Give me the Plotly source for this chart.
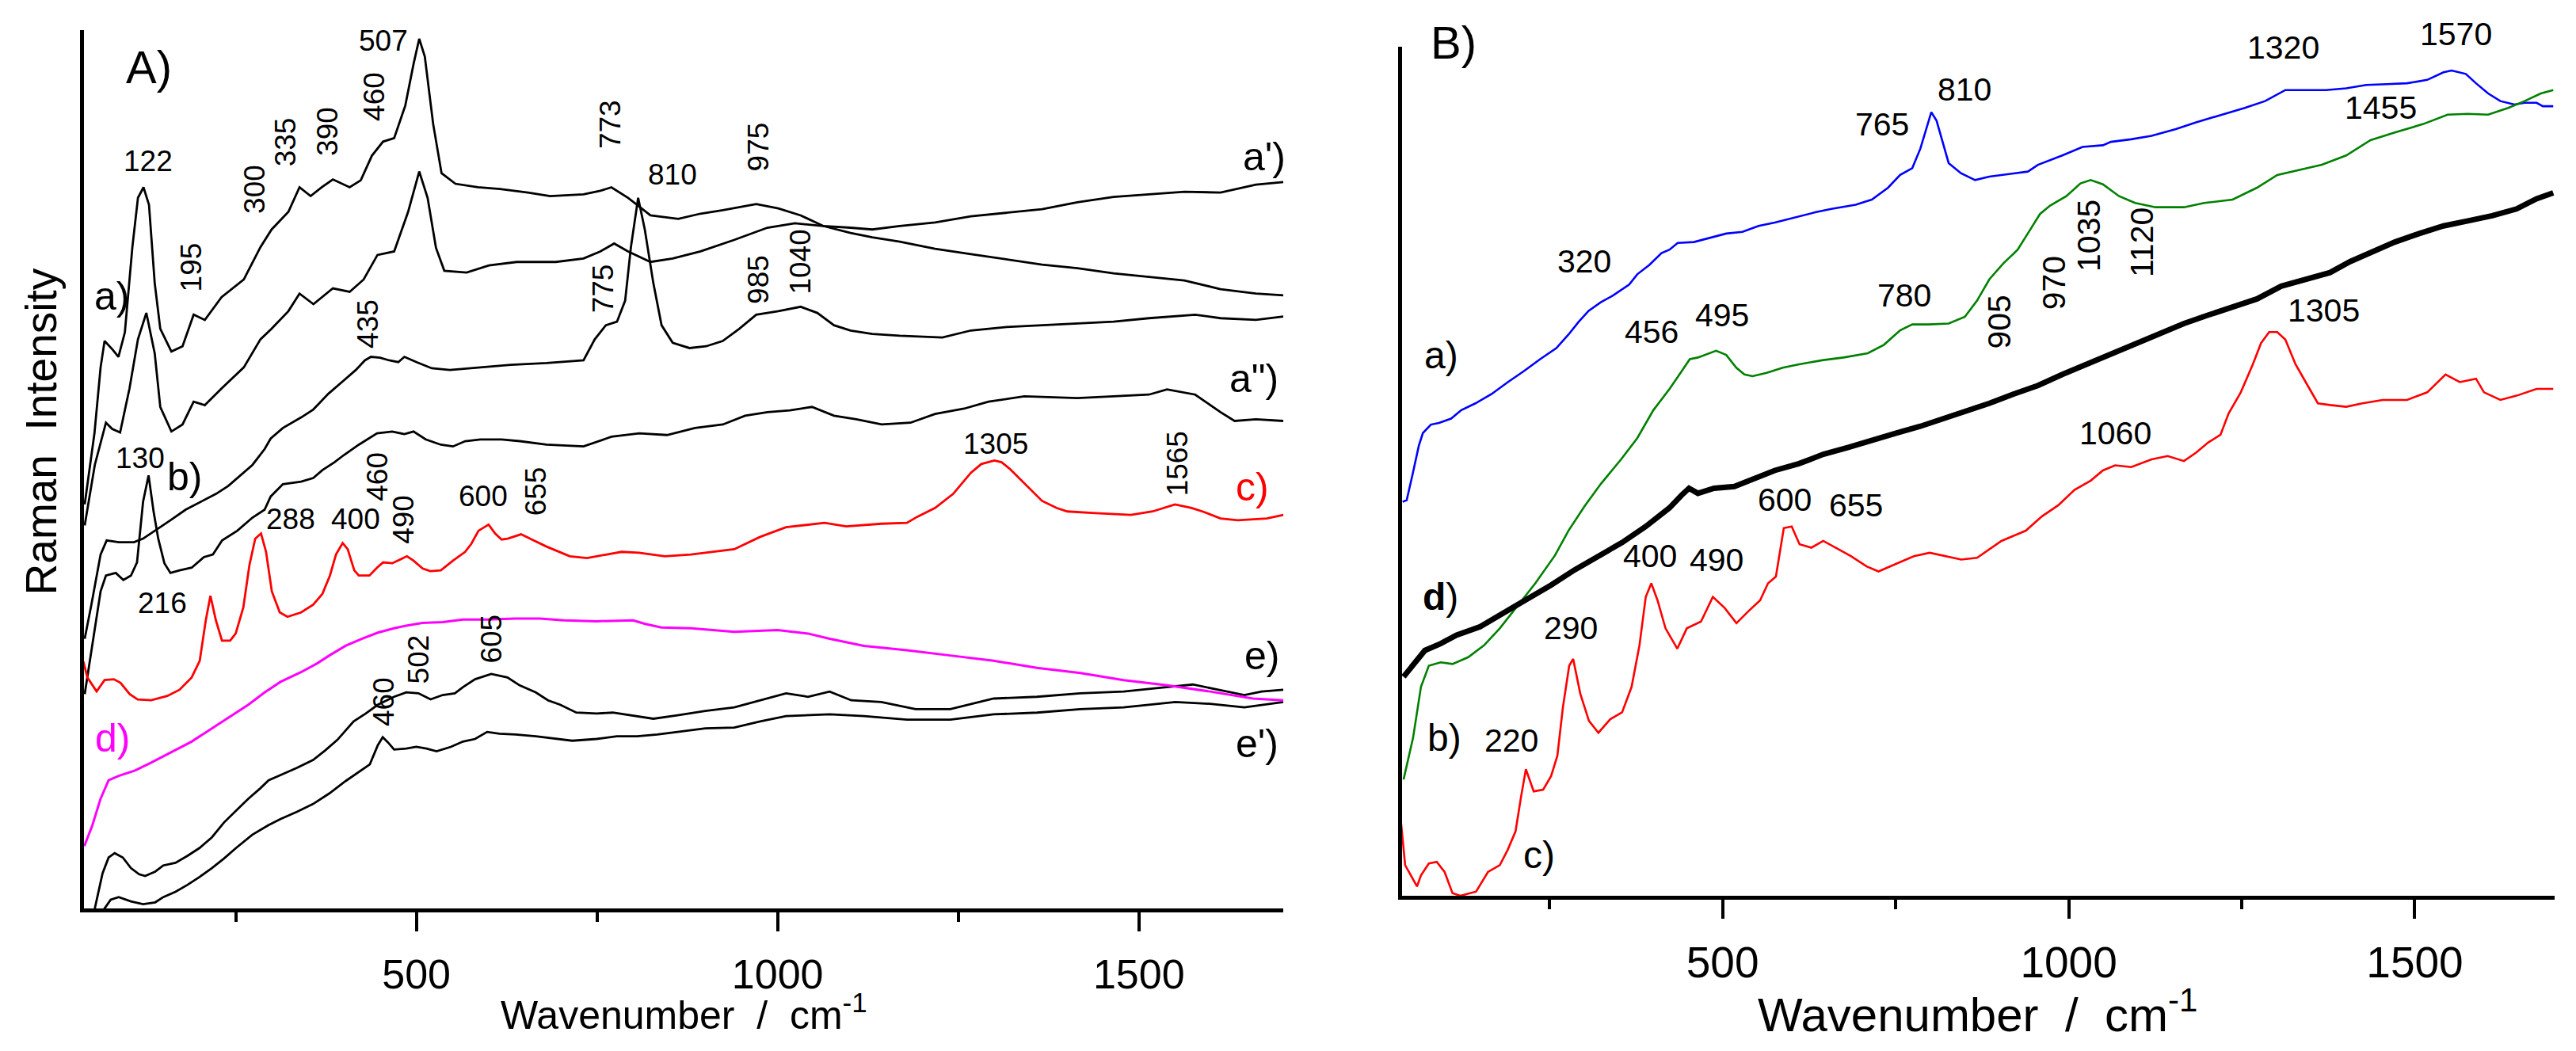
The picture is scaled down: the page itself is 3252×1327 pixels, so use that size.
import plotly.graph_objects as go

# ---- panel A spectra (wavenumber / cm-1, intensity in arbitrary units 0-100) ----
a1_wn = [41, 54.5, 63, 68.5, 79.8, 87.7, 96.6, 107, 114.7, 122.4, 130, 137.9, 145.6, 161, 176.4, 191.8, 207.2,
         230.4, 261.2, 284.3, 299.7, 322.9, 338.3, 353.7, 369.1, 384.5, 407.7, 423.1, 438.5, 453.9, 469.3, 484.7,
         496.3, 504, 511.7, 523.3, 534.9, 554.1, 585, 615.8, 654.4, 685.2, 731.4, 754.6, 770, 793.1, 824, 862.5,
         893.3, 924.2, 970.4, 1001, 1032, 1063, 1101, 1131, 1169, 1218, 1267.5, 1317, 1366, 1415, 1465, 1514,
         1563, 1613, 1662, 1700]
a1_int = [46.0, 54.1, 61.6, 64.6, 63.6, 62.8, 65.6, 75.3, 80.9, 82.1, 80.1, 71.2, 66.0, 63.4, 64.0, 67.6, 67.0,
          69.6, 71.6, 75.3, 77.3, 79.3, 82.1, 81.1, 82.1, 83.0, 82.1, 82.9, 85.7, 87.3, 87.7, 91.4, 96.2, 99.0,
          97.0, 89.3, 83.7, 82.5, 82.1, 81.9, 81.5, 81.1, 81.3, 81.7, 82.1, 80.9, 78.9, 78.5, 79.1, 79.5, 80.2,
          79.7, 78.9, 77.7, 76.9, 76.4, 75.9, 75.1, 74.5, 73.9, 73.3, 72.9, 72.3, 71.9, 71.5, 70.5, 70.0, 69.8]

a2_wn = [41, 55, 70.4, 79, 90, 103, 114.7, 126.3, 137.9, 145.6, 161, 176.4, 191.8, 207.2, 230.4, 261.2, 284.3,
         299.7, 322.9, 338.3, 357.6, 384.5, 407.7, 427, 446.2, 469.3, 488.6, 504, 515.6, 527.2, 538.7, 569.6,
         600.4, 639, 693, 731.4, 754.6, 773.8, 793.1, 824, 854.8, 893.3, 939.6, 985.8, 1024, 1063, 1101, 1131,
         1169, 1218, 1267.5, 1317, 1366, 1415, 1465, 1514, 1563, 1613, 1662, 1700]
a2_int = [43.6, 50.5, 55.3, 54.6, 54.2, 59.2, 64.8, 67.8, 63.2, 57.1, 54.3, 55.1, 57.7, 57.3, 59.2, 61.6, 64.8,
          66.0, 68.0, 70.0, 68.8, 70.6, 70.2, 71.6, 74.4, 74.8, 79.3, 83.9, 80.9, 75.2, 72.6, 72.4, 73.2, 73.6,
          73.6, 74.0, 74.8, 75.7, 74.8, 73.6, 74.0, 74.8, 76.1, 77.5, 78.0, 77.7, 77.5, 77.3, 77.7, 78.1, 78.8,
          79.2, 79.6, 80.4, 81.0, 81.3, 81.6, 81.5, 82.4, 82.7]

a3_wn = [41, 50.3, 63, 71.4, 88.2, 109.2, 121.8, 138.6, 159.7, 180.7, 201.7, 222.7, 239.6, 256.4, 273.2, 290,
         298.4, 315.3, 340.5, 357.3, 378.3, 399.4, 416.2, 428.8, 437.2, 449.8, 462.4, 475, 483.5, 500.3, 521.3,
         546.5, 588.6, 630.6, 680.2, 731.4, 747, 762.3, 777.7, 789, 797, 807, 816.2, 828, 839.4, 854.8, 878, 901,
         924, 947, 970.4, 1001, 1032, 1055, 1078, 1101, 1131, 1169, 1228, 1267.5, 1317, 1366, 1415, 1465, 1514,
         1578, 1613, 1662, 1700]
a3_int = [30.7, 34.6, 40.3, 41.9, 41.7, 41.7, 42.1, 43.0, 44.2, 45.4, 46.3, 47.2, 48.1, 49.3, 50.5, 52.3, 53.5,
          54.7, 55.9, 56.8, 58.6, 60.1, 61.3, 62.4, 62.8, 62.7, 62.4, 62.2, 62.8, 62.2, 61.5, 61.3, 61.6, 61.9,
          62.1, 62.4, 64.8, 66.4, 66.8, 69.2, 75.3, 80.9, 77.3, 71.2, 66.4, 64.4, 63.8, 64.0, 64.6, 66.0, 67.6,
          68.0, 68.5, 67.8, 66.4, 65.8, 65.4, 65.2, 65.0, 65.8, 66.2, 66.4, 66.6, 66.8, 67.2, 67.6, 67.2, 67.0, 67.4]

a4_wn = [41, 54.5, 63, 70.4, 84, 94.5, 105, 113.4, 121.8, 129.4, 136.5, 142.8, 151.3, 159.7, 172.3, 189.1, 205.9,
         218.5, 231.2, 252.2, 273.2, 290, 298.4, 315.3, 340.5, 357.3, 369.9, 386.7, 399.4, 420.4, 437.2, 445.6,
         466.6, 483.5, 496.1, 512.9, 533.9, 550.7, 567.5, 588.6, 618, 643.3, 680.2, 731.4, 770, 808.5, 847,
         885.6, 924.2, 955, 986, 1017, 1047.5, 1078, 1109, 1144, 1184, 1218, 1258, 1292, 1341.4, 1415, 1465,
         1514, 1539, 1578, 1613, 1632.5, 1662, 1700]
a4_int = [24.4, 31.6, 36.1, 37.9, 38.2, 37.4, 37.9, 39.4, 46.3, 49.3, 45.1, 42.1, 39.3, 38.2, 38.5, 38.8, 40.0,
          40.3, 41.9, 43.0, 44.5, 45.4, 46.9, 48.3, 48.6, 49.0, 49.9, 50.8, 51.6, 52.8, 53.7, 54.1, 54.3, 54.0,
          54.3, 53.4, 52.8, 52.6, 53.2, 53.4, 53.4, 53.2, 52.8, 52.6, 53.7, 54.1, 53.9, 54.7, 55.1, 56.1, 56.5,
          56.7, 57.1, 56.1, 55.7, 55.1, 55.3, 56.3, 56.9, 57.7, 58.3, 58.1, 58.3, 58.5, 59.1, 58.5, 56.5, 55.5,
          55.7, 55.5]

ac_wn = [39.2, 44.7, 57.5, 68.5, 81.3, 90.5, 103.3, 114.3, 133, 155.4, 172.2, 189, 200.2, 208.6, 215, 222.6, 231,
         242.3, 250, 260.6, 269, 277, 285, 292, 300, 311, 321.6, 340.5, 357.3, 369.9, 380.4, 388.8, 398, 405,
         414.1, 420.4, 435.1, 445.6, 454, 466.6, 487, 496.1, 508.7, 519.2, 533.9, 550.7, 567.5, 576, 586, 600,
         609, 618, 626.4, 645, 660, 680.2, 712.4, 736.3, 784, 808, 844, 880, 940, 975.8, 1011.7, 1065, 1095,
         1144, 1179, 1193.5, 1218, 1243, 1267.5, 1282, 1300, 1310, 1322, 1341.4, 1366, 1386, 1401, 1440, 1489,
         1519, 1550, 1573, 1588, 1613, 1637, 1677, 1700]
ac_int = [28.1, 26.3, 24.7, 26.0, 26.1, 25.7, 24.4, 23.8, 23.7, 24.2, 24.9, 26.3, 28.2, 32.8, 35.6, 32.8, 30.5,
          30.5, 31.3, 34.3, 39.1, 42.1, 42.7, 40.6, 36.1, 33.7, 33.2, 33.7, 34.6, 35.8, 37.9, 40.3, 41.6, 40.9,
          38.5, 37.9, 37.9, 38.8, 39.4, 39.3, 40.1, 39.6, 38.7, 38.4, 38.5, 39.6, 40.6, 41.5, 43.0, 43.7, 42.7,
          42.0, 42.1, 42.6, 42.0, 41.2, 40.1, 39.9, 40.6, 40.5, 40.1, 40.3, 40.9, 42.3, 43.4, 43.9, 43.5, 43.8,
          43.9, 44.6, 45.6, 47.2, 49.6, 50.6, 51.0, 50.8, 50.0, 48.4, 46.4, 45.6, 45.2, 45.0, 44.8, 45.2, 46.0,
          45.6, 45.2, 44.4, 44.2, 44.4, 44.8]

ad_wn = [40.5, 51.7, 63, 74.1, 88.1, 110.6, 133, 161, 189, 217, 245, 267.5, 290, 312, 340.3, 362.7, 379.6, 402,
         424.4, 446.8, 469.2, 486, 508.4, 536.5, 564.5, 598, 637.3, 671, 704.6, 749.4, 800, 816.7, 839, 880,
         940, 1000, 1042, 1072, 1119.5, 1179, 1239, 1299, 1359, 1419, 1479, 1539, 1598.5, 1658, 1700]
ad_int = [7.1, 9.5, 12.5, 14.6, 15.1, 15.7, 16.6, 17.8, 19.0, 20.5, 22.0, 23.2, 24.6, 25.8, 26.9, 27.9, 28.8,
          29.9, 30.7, 31.4, 31.9, 32.2, 32.5, 32.6, 32.9, 32.9, 33.0, 33.0, 32.8, 32.7, 32.8, 32.4, 32.0, 31.9,
          31.5, 31.7, 31.3, 30.7, 29.9, 29.4, 28.8, 28.2, 27.4, 26.8, 26.0, 25.4, 24.7, 23.9, 23.7]

ae_wn = [55, 65.7, 74.1, 82.5, 93.8, 105, 116.2, 124.6, 138.6, 149.8, 166.6, 183.4, 200.2, 217, 233.9, 245,
         267.5, 284.3, 295.5, 312.3, 334.7, 357.1, 374, 390.8, 413.2, 430, 446.8, 469.2, 486, 502.8, 519.7,
         536.5, 553.3, 564.5, 581.3, 603.7, 626.1, 643, 665.4, 682.2, 699, 721.4, 749.4, 771.8, 805.5, 828,
         861.5, 900, 940, 975.8, 1011.7, 1042, 1072, 1102, 1143.5, 1191, 1239, 1299, 1359, 1419, 1479, 1527,
         1574.6, 1610, 1646, 1670, 1700]
ae_int = [0.0, 4.0, 5.8, 6.3, 5.8, 4.6, 3.9, 3.7, 4.2, 4.9, 5.2, 6.0, 6.9, 8.1, 9.8, 10.7, 12.5, 13.7, 14.6, 15.2,
          16.0, 16.9, 18.0, 19.2, 21.3, 22.2, 23.2, 24.1, 24.6, 24.5, 23.8, 24.3, 24.5, 25.2, 26.1, 26.7, 26.3,
          25.4, 24.6, 23.7, 23.2, 22.3, 22.2, 22.3, 21.9, 21.6, 22.0, 22.5, 22.9, 23.7, 24.5, 24.1, 24.7, 23.7,
          23.5, 22.7, 22.7, 23.9, 24.1, 24.5, 24.7, 25.1, 25.5, 24.9, 24.3, 24.7, 24.9]

ae2_wn = [62, 68.5, 77, 88.1, 105, 121.8, 138.6, 149.8, 166.6, 183.4, 200.2, 217, 233.9, 250.7, 273.1, 295.5,
          312.3, 334.7, 357.1, 379.6, 402, 424.4, 435.6, 446.8, 453.5, 460.8, 469.2, 486, 500, 514, 528, 547.7,
          564.5, 581.3, 598, 615, 637.3, 665.4, 693.4, 715.8, 749.4, 777.4, 805.5, 833.5, 861.5, 900, 940,
          975.8, 1011.7, 1072, 1119.5, 1179, 1239, 1299, 1359, 1419, 1479, 1550.6, 1598.5, 1646, 1700]
ae2_int = [-1.0, 0.0, 1.0, 1.3, 0.8, 0.5, 0.7, 1.3, 1.9, 2.7, 3.6, 4.6, 5.7, 6.9, 8.4, 9.5, 10.2, 11.0, 11.9,
           13.1, 14.5, 15.8, 16.4, 18.6, 19.5, 18.9, 18.1, 18.2, 18.4, 18.2, 17.9, 18.4, 19.0, 19.3, 20.1, 19.9,
           19.8, 19.6, 19.3, 19.1, 19.3, 19.6, 19.6, 19.8, 20.1, 20.5, 20.6, 21.3, 21.9, 22.1, 21.9, 21.5, 21.5,
           22.1, 22.3, 22.7, 22.9, 23.5, 23.3, 22.9, 23.5]

# ---- panel B spectra ----
ba_wn = [37.7, 43.6, 52.3, 61.1, 67, 78.6, 90.3, 107.8, 122.5, 142.9, 166.3, 189.7, 213, 236.4, 259.8, 277.3, 292,
         306.5, 324, 341.6, 365, 376.7, 394.2, 411.7, 423.4, 435.1, 458.5, 481.9, 505.2, 528.6, 552, 575.4,
         598.7, 633.8, 657.2, 692.3, 715.6, 739, 756.5, 774, 785.7, 794.5, 801.5, 809.1, 817.9, 826.6, 844.3,
         864.8, 885.3, 920.5, 941, 955.6, 990.8, 1020, 1049.4, 1061, 1090, 1119.7, 1154.8, 1184, 1213.4, 1254.4,
         1283.7, 1313, 1342.3, 1371.6, 1400.9, 1430, 1459.5, 1488.8, 1518, 1541.5, 1553.2, 1573.7, 1588.4, 1606,
         1623.6, 1644, 1658.7, 1676, 1685, 1700]
ba_int = [46.4, 46.6, 49.7, 53.0, 54.5, 55.5, 55.7, 56.2, 57.2, 58.0, 59.1, 60.5, 61.8, 63.2, 64.5, 66.1, 67.6,
          68.9, 69.9, 70.7, 72.0, 73.2, 74.3, 75.7, 76.1, 76.9, 77.0, 77.5, 78.0, 78.2, 78.9, 79.3, 79.8, 80.5,
          80.9, 81.4, 82.0, 83.4, 84.9, 85.7, 88.0, 90.5, 92.3, 91.3, 88.8, 86.3, 85.1, 84.3, 84.7, 85.1, 85.3,
          86.1, 87.2, 88.2, 88.4, 88.8, 89.1, 89.5, 90.3, 91.1, 91.8, 92.8, 93.6, 94.9, 94.9, 94.9, 95.1, 95.5,
          95.6, 95.7, 96.1, 97.0, 97.2, 96.8, 95.7, 94.5, 93.6, 93.2, 93.4, 93.4, 93.0, 93.0]

bb_wn = [39.1, 52.8, 64.2, 75.6, 92.7, 109.8, 132.5, 155.3, 178.1, 200.9, 229.4, 257.9, 277.3, 300.7, 324, 353.3,
         376.7, 400, 423.4, 441, 452.6, 464.3, 481.9, 490.6, 505.2, 519.8, 531.5, 543.2, 563.7, 587, 610.4, 645.5,
         674.7, 709.8, 733.1, 756.5, 774, 797.4, 826.6, 850, 867.6, 885.3, 905.8, 926.3, 943.9, 958.5, 973.2,
         996.6, 1017, 1031.8, 1049.4, 1072.8, 1096, 1125.5, 1166.5, 1195.8, 1236.8, 1272, 1301.3, 1342.3, 1365.7,
         1400.9, 1436, 1471.2, 1512.2, 1547.4, 1576.7, 1606, 1635, 1658.7, 1682, 1700]
bb_int = [13.7, 18.6, 24.6, 27.1, 27.5, 27.3, 28.1, 29.5, 31.5, 33.9, 36.8, 40.1, 43.0, 45.9, 48.5, 51.4, 53.9,
          57.2, 59.7, 61.8, 63.2, 63.4, 63.9, 64.2, 63.7, 62.2, 61.4, 61.2, 61.6, 62.2, 62.6, 63.1, 63.4, 63.9,
          64.9, 66.6, 67.3, 67.3, 67.4, 68.2, 70.1, 72.6, 74.5, 76.1, 78.4, 80.3, 81.3, 82.4, 83.9, 84.3, 83.8,
          82.4, 81.6, 81.1, 81.1, 81.6, 82.0, 83.4, 84.9, 85.7, 86.1, 87.2, 89.0, 89.9, 90.9, 92.0, 92.1, 92.0,
          92.8, 93.6, 94.5, 94.9]

bd_wn = [39.1, 52.8, 69.9, 92.7, 115.5, 149.7, 183.8, 218, 252.2, 286.4, 320.6, 354.7, 389, 423.4, 441, 451.5,
         464.3, 487.7, 516.9, 540.3, 575.4, 610.4, 645.5, 680.6, 715.6, 750.7, 785.7, 820.8, 850, 885.3, 920.5,
         955.6, 990.8, 1026, 1061, 1096, 1131.4, 1166.5, 1201.7, 1236.8, 1272, 1307, 1342.3, 1377.5, 1406.7, 1436,
         1471.2, 1506.4, 1541.5, 1576.7, 1611.8, 1647, 1676, 1700]
bd_int = [25.8, 27.1, 28.9, 29.7, 30.7, 31.7, 33.3, 35.0, 36.6, 38.4, 40.0, 41.6, 43.5, 45.7, 47.2, 48.0, 47.4,
          48.0, 48.2, 48.9, 50.1, 50.9, 52.0, 52.8, 53.7, 54.5, 55.3, 56.2, 57.0, 58.0, 59.1, 60.1, 61.4, 62.6,
          63.9, 65.1, 66.2, 67.4, 68.4, 69.3, 70.3, 71.8, 72.6, 73.4, 74.7, 75.7, 77.0, 78.0, 78.9, 79.5, 80.1,
          80.9, 82.1, 82.8]

bc_wn = [35.7, 41.4, 58.5, 64.2, 75.6, 87, 98.4, 109.8, 121.2, 143.9, 161, 178.1, 189.5, 200.9, 208.9, 215.8,
         227.1, 240.8, 252.2, 261.3, 269.3, 278.4, 284.1, 294.4, 306.9, 320.6, 337.7, 354.8, 368.5, 379.9, 389,
         397, 406, 417.5, 434.6, 448.3, 468.8, 485.9, 503, 520, 537.1, 554.2, 565.6, 577, 588.4, 599.8, 611.2,
         628.3, 645.4, 662.5, 685.3, 708.1, 725.2, 753.7, 776.4, 799.2, 822, 844.8, 867.6, 902.9, 938, 961.5,
         985, 1008.3, 1031.8, 1049.4, 1067, 1090.4, 1119.7, 1143, 1166.5, 1184, 1201.7, 1219.3, 1231, 1248.6,
         1266, 1277.9, 1289.6, 1301.3, 1313, 1327.7, 1345.2, 1360, 1377.5, 1400.9, 1424.3, 1453.6, 1488.8, 1518,
         1544.4, 1565, 1588.4, 1600, 1623.6, 1647, 1676, 1700]
bc_int = [8.4, 3.6, 1.1, 2.4, 3.8, 4.0, 2.8, 0.3, 0.0, 0.5, 2.8, 3.6, 5.4, 7.6, 11.7, 14.9, 12.3, 12.5, 14.1,
          16.5, 22.2, 27.1, 27.9, 23.8, 20.6, 19.2, 20.8, 21.6, 24.6, 29.5, 35.2, 36.8, 34.8, 31.5, 29.1, 31.5,
          32.3, 35.2, 33.9, 32.1, 33.5, 34.8, 36.8, 37.6, 43.3, 43.5, 41.4, 41.0, 41.8, 41.0, 40.0, 38.8, 38.2,
          39.2, 40.0, 40.4, 40.0, 39.6, 39.8, 41.8, 43.0, 44.7, 46.0, 47.8, 48.9, 50.1, 50.7, 50.5, 51.4, 51.8,
          51.2, 52.2, 53.4, 54.3, 56.8, 59.3, 62.6, 65.1, 66.4, 66.4, 65.5, 62.6, 60.1, 58.0, 57.8, 57.6, 58.0,
          58.4, 58.4, 59.3, 61.4, 60.5, 60.9, 59.3, 58.4, 58.9, 59.7, 59.7]

# ---- band labels (text, wavenumber, intensity, rotated?) ----
peaks_a = [("122", 128.6, 85.1, 0), ("195", 188, 73.0, 1), ("300", 277, 81.9, 1), ("335", 319, 87.3, 1),
           ("390", 377, 88.5, 1), ("460", 442, 92.4, 1), ("507", 454, 98.8, 0), ("773", 768.5, 89.3, 1),
           ("810", 855, 83.5, 0), ("975", 974, 86.7, 1), ("775", 758.4, 70.6, 1), ("985", 974, 71.6, 1),
           ("1040", 1032, 73.6, 1), ("435", 433, 66.6, 1), ("130", 118, 51.3, 0), ("288", 326, 44.3, 0),
           ("400", 415.5, 44.3, 0), ("460", 446, 49.2, 1), ("490", 483, 44.3, 1), ("600", 593, 46.9, 0),
           ("655", 665, 47.5, 1), ("1305", 1302, 52.9, 0), ("1565", 1553.5, 50.6, 1), ("216", 148, 34.8, 0),
           ("502", 503, 28.4, 1), ("605", 604.6, 30.7, 1), ("460", 455, 23.5, 1)]
curves_a = [("a)", 78, 69.7, "black"), ("a')", 1674, 85.6, "black"), ('a")', 1659.5, 60.3, "black"),
            ("b)", 179, 49.1, "black"), ("c)", 1657, 48.0, "red"), ("d)", 79, 19.4, "magenta"),
            ("e)", 1670, 28.8, "black"), ("e')", 1664, 18.8, "black")]

peaks_b = [("765", 730, 90.9, 0), ("810", 850, 95.0, 0), ("320", 300.7, 74.7, 0), ("456", 397, 66.4, 0),
           ("495", 499.4, 68.4, 0), ("780", 762.4, 70.7, 0), ("600", 590, 46.6, 0), ("655", 692.3, 46.0, 0),
           ("1320", 1310, 99.9, 0), ("1570", 1559, 101.5, 0), ("1455", 1450.7, 92.8, 0), ("905", 900, 67.6, 1),
           ("970", 979, 72.2, 1), ("1035", 1029, 77.8, 1), ("1120", 1105, 77.0, 1), ("1305", 1368.7, 68.9, 0),
           ("1060", 1067, 54.5, 0), ("400", 394.7, 40.0, 0), ("490", 491.6, 39.6, 0), ("290", 280.7, 31.5, 0),
           ("220", 195.2, 18.3, 0)]
curves_b = [("a)", 93.2, 63.7), ("<b>d</b>)", 92.7, 35.2), ("b)", 98.4, 18.6), ("c)", 235, 4.8)]

FONT = "Liberation Sans, Arial, sans-serif"
YDOM_A = [0.1356, 0.9714]
YDOM_B = [0.1477, 0.9555]
XTITLE = "Wavenumber\u00a0 /\u00a0 cm<sup>-1</sup>"


def axis_x(domain, rng, tick_size, lab_standoff, anchor):
    return dict(domain=domain, range=rng, anchor=anchor, showline=True, linecolor="black", linewidth=4.5,
                mirror=False, ticks="outside", ticklen=24, tickwidth=4, tickcolor="black", tick0=0, dtick=500,
                minor=dict(dtick=250, ticks="outside", ticklen=12, tickwidth=4, tickcolor="black"),
                showgrid=False, zeroline=False, automargin=False, ticklabelstandoff=lab_standoff,
                tickfont=dict(family=FONT, size=tick_size, color="black"))


def axis_y(domain, anchor):
    return dict(domain=domain, range=[0, 100], anchor=anchor, showline=True, linecolor="black", linewidth=4.5,
                ticks="", showticklabels=False, showgrid=False, zeroline=False, automargin=False)


def label(x, y, text, xref, yref, size, color="black", angle=0, ydom=None):
    # labels above the top of an axis are placed in paper units so they are not hidden
    if ydom is not None and y > 100:
        y = ydom[0] + y / 100 * (ydom[1] - ydom[0])
        yref = "paper"
    return dict(x=x, y=y, xref=xref, yref=yref, text=text, showarrow=False, textangle=angle,
                xanchor="center", yanchor="middle", font=dict(family=FONT, size=size, color=color))


def main():
    fig = go.Figure()

    for wn, it in [(a1_wn, a1_int), (a2_wn, a2_int), (a3_wn, a3_int), (a4_wn, a4_int),
                   (ae_wn, ae_int), (ae2_wn, ae2_int)]:
        fig.add_trace(go.Scatter(x=wn, y=it, mode="lines", line=dict(color="black", width=2.8),
                                 xaxis="x", yaxis="y"))
    fig.add_trace(go.Scatter(x=ac_wn, y=ac_int, mode="lines", line=dict(color="red", width=2.8),
                             xaxis="x", yaxis="y"))
    fig.add_trace(go.Scatter(x=ad_wn, y=ad_int, mode="lines", line=dict(color="magenta", width=3),
                             xaxis="x", yaxis="y"))

    fig.add_trace(go.Scatter(x=ba_wn, y=ba_int, mode="lines", line=dict(color="blue", width=2.6),
                             xaxis="x2", yaxis="y2"))
    fig.add_trace(go.Scatter(x=bb_wn, y=bb_int, mode="lines", line=dict(color="green", width=2.6),
                             xaxis="x2", yaxis="y2"))
    fig.add_trace(go.Scatter(x=bd_wn, y=bd_int, mode="lines", line=dict(color="black", width=7),
                             xaxis="x2", yaxis="y2"))
    fig.add_trace(go.Scatter(x=bc_wn, y=bc_int, mode="lines", line=dict(color="red", width=2.6),
                             xaxis="x2", yaxis="y2"))

    ann = []
    for txt, x, y, rot in peaks_a:
        ann.append(label(x, y, txt, "x", "y", 37, angle=-90 if rot else 0, ydom=YDOM_A))
    for txt, x, y, col in curves_a:
        ann.append(label(x, y, txt, "x", "y", 50, color=col, ydom=YDOM_A))
    ann.append(label(130, 95.8, "A)", "x", "y", 58, ydom=YDOM_A))

    for txt, x, y, rot in peaks_b:
        ann.append(label(x, y, txt, "x2", "y2", 41, angle=-90 if rot else 0, ydom=YDOM_B))
    for txt, x, y in curves_b:
        ann.append(label(x, y, txt, "x2", "y2", 48, ydom=YDOM_B))
    ann.append(label(111, 100.5, "B)", "x2", "y2", 58, ydom=YDOM_B))

    # axis titles
    ann.append(label(0.016, 0.589, "Raman\u00a0 Intensity", "paper", "paper", 55, angle=-90))
    ann.append(label(0.2654, 0.037, XTITLE, "paper", "paper", 50))
    ann.append(label(0.7678, 0.038, XTITLE, "paper", "paper", 60))

    fig.update_layout(
        width=3252, height=1327, autosize=False, showlegend=False,
        margin=dict(l=0, r=0, t=0, b=0), template="none",
        paper_bgcolor="white", plot_bgcolor="white",
        xaxis=axis_x([0.0326, 0.4982], [40, 1700], 52, 10, "y"),
        yaxis=axis_y(YDOM_A, "x"),
        xaxis2=axis_x([0.5443, 0.9917], [37, 1702], 55, 8, "y2"),
        yaxis2=axis_y(YDOM_B, "x2"),
        annotations=ann,
    )

    fig.write_html("out.html", config={"displayModeBar": False},
                   post_script="document.body.style.margin='0';")


if __name__ == "__main__":
    main()
